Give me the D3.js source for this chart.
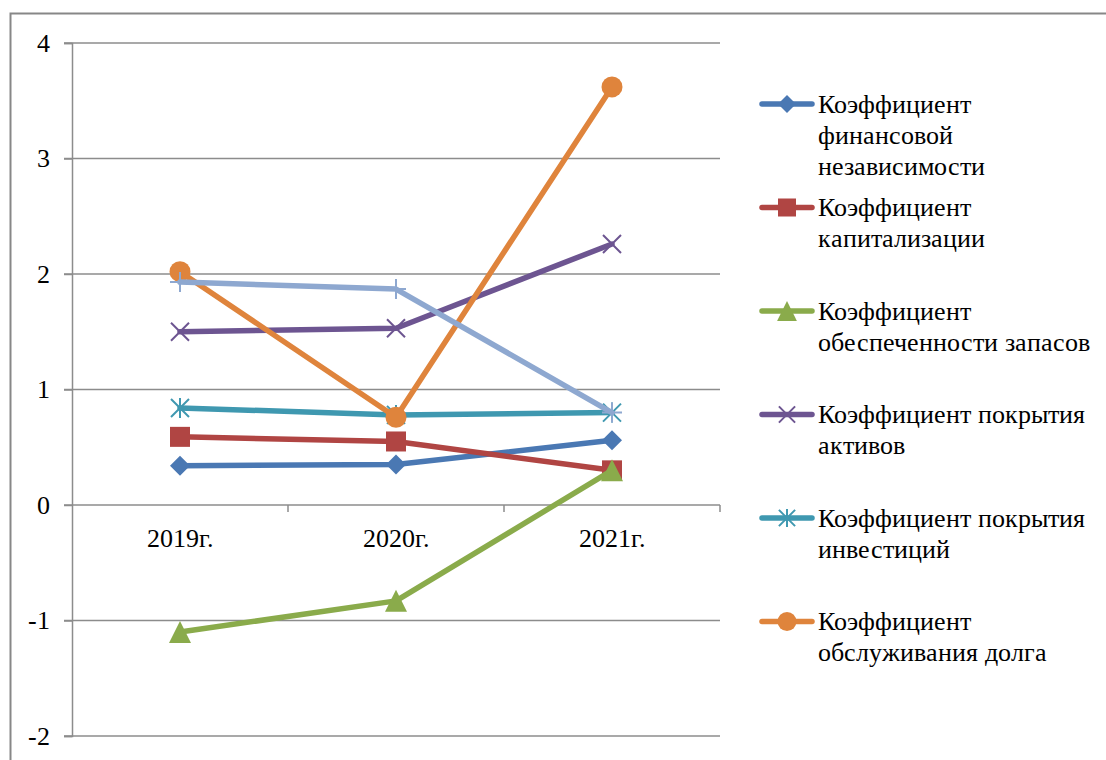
<!DOCTYPE html>
<html>
<head>
<meta charset="utf-8">
<script src="https://cdn.jsdelivr.net/npm/d3@7"></script>
<style>
  @font-face {
    font-family: "ChartSerif";
    src: local("Liberation Serif"), local("LiberationSerif"), local("LiberationSerif-Regular"), local("Times New Roman"), local("Tinos");
  }
  svg text { font-family: "ChartSerif", "Liberation Serif", "Times New Roman", Tinos, serif !important; }
</style>
</head>
<body style="margin:0">
<div class="chart"></div>
<script>
var WIDTH = 1106;
var HEIGHT = 760;

var PLOT_LEFT = 72;
var PLOT_RIGHT = 720;
var PLOT_TOP = 43;
var PLOT_BOTTOM = 736;

var categories = ['2019г.', '2020г.', '2021г.'];
var yTicks = [-2, -1, 0, 1, 2, 3, 4];

var seriesNames = [
    'Коэффициент финансовой независимости',
    'Коэффициент капитализации',
    'Коэффициент обеспеченности запасов',
    'Коэффициент покрытия активов',
    'Коэффициент покрытия инвестиций',
    'Коэффициент обслуживания долга',
    'Коэффициент'
];

var finIndependence = [0.34, 0.35, 0.56];
var capitalization = [0.59, 0.55, 0.30];
var stockCoverage = [-1.10, -0.83, 0.30];
var assetCoverage = [1.50, 1.53, 2.26];
var investCoverage = [0.84, 0.78, 0.80];
var debtService = [2.02, 0.76, 3.62];
var seventhSeries = [1.93, 1.87, 0.80];

// legend text as it wraps in the picture
var legendLines = [
    ['Коэффициент', 'финансовой', 'независимости'],
    ['Коэффициент', 'капитализации'],
    ['Коэффициент', 'обеспеченности запасов'],
    ['Коэффициент покрытия', 'активов'],
    ['Коэффициент покрытия', 'инвестиций'],
    ['Коэффициент', 'обслуживания долга']
];

var series = [
    { name: seriesNames[0], values: finIndependence, color: '#4a78b3', marker: 'diamond' },
    { name: seriesNames[1], values: capitalization, color: '#b04543', marker: 'square' },
    { name: seriesNames[2], values: stockCoverage, color: '#8aab4b', marker: 'triangle' },
    { name: seriesNames[3], values: assetCoverage, color: '#6d5591', marker: 'cross' },
    { name: seriesNames[4], values: investCoverage, color: '#3f98b0', marker: 'star' },
    { name: seriesNames[5], values: debtService, color: '#df843c', marker: 'circle' },
    { name: seriesNames[6], values: seventhSeries, color: '#8ea8d0', marker: 'plus' }
];

var _svg, _xScale, _yScale;

var translate = function (x, y) {
    return "translate(" + x + "," + y + ")";
};

var serif = function (sel) {
    sel.attr('font-family', 'ChartSerif, Liberation Serif, serif')
        .attr('font-size', 26)
        .attr('fill', '#000');
};

var drawMarker = function (g, type, color, x, y, s) {
    var k = s || 1;
    if (type === 'diamond') {
        var r = 10 * k;
        g.append('path').attr('transform', translate(x, y))
            .attr('d', 'M0,' + (-r) + 'L' + r + ',0L0,' + r + 'L' + (-r) + ',0Z')
            .attr('fill', color);
    } else if (type === 'square') {
        var h = 10 * k;
        g.append('rect').attr('x', x - h).attr('y', y - h)
            .attr('width', 2 * h).attr('height', 2 * h)
            .attr('fill', color);
    } else if (type === 'triangle') {
        var t = 11 * k;
        g.append('path').attr('transform', translate(x, y))
            .attr('d', 'M0,' + (-t) + 'L' + t + ',' + t + 'L' + (-t) + ',' + t + 'Z')
            .attr('fill', color);
    } else if (type === 'circle') {
        g.append('circle').attr('cx', x).attr('cy', y).attr('r', 10.5 * k)
            .attr('fill', color);
    } else if (type === 'cross') {
        var c = 9 * k;
        g.append('path').attr('transform', translate(x, y))
            .attr('d', 'M' + (-c) + ',' + (-c) + 'L' + c + ',' + c + 'M' + (-c) + ',' + c + 'L' + c + ',' + (-c))
            .attr('stroke', color).attr('stroke-width', 2).attr('fill', 'none');
    } else if (type === 'star') {
        var a = 9 * k;
        g.append('path').attr('transform', translate(x, y))
            .attr('d', 'M' + (-a) + ',' + (-a) + 'L' + a + ',' + a + 'M' + (-a) + ',' + a + 'L' + a + ',' + (-a) +
                'M0,' + (-a - 1) + 'L0,' + (a + 1))
            .attr('stroke', color).attr('stroke-width', 2).attr('fill', 'none');
    } else if (type === 'plus') {
        var p = 10 * k;
        g.append('path').attr('transform', translate(x, y))
            .attr('d', 'M' + (-p) + ',0L' + p + ',0M0,' + (-p) + 'L0,' + p)
            .attr('stroke', color).attr('stroke-width', 2).attr('fill', 'none');
    }
};

var generateFrame = function () {
    _svg.append('rect')
        .attr('x', 10.5).attr('y', 13.5)
        .attr('width', WIDTH + 20).attr('height', HEIGHT + 20)
        .attr('fill', 'none')
        .attr('stroke', '#878787')
        .attr('stroke-width', 2);
};

var generateAxis = function () {
    var grid = _svg.append('g').attr('class', 'grid');
    yTicks.forEach(function (t) {
        grid.append('line')
            .attr('x1', PLOT_LEFT - 8).attr('x2', PLOT_RIGHT)
            .attr('y1', _yScale(t)).attr('y2', _yScale(t))
            .attr('stroke', '#8c8c8c').attr('stroke-width', 1.5);
    });

    var y = d3.axisLeft(_yScale).tickValues(yTicks).tickSize(8).tickPadding(8)
        .tickFormat(d3.format('d'));
    var yAxis = _svg.append('g')
        .attr('transform', translate(PLOT_LEFT, 0))
        .classed('yAxis', true)
        .call(y);
    yAxis.attr('font-family', null).attr('font-size', null);
    yAxis.select('.domain').attr('stroke', '#8c8c8c').attr('stroke-width', 1.5);
    yAxis.selectAll('.tick line').attr('stroke', '#8c8c8c').attr('stroke-width', 1.5);
    yAxis.selectAll('.tick text')
        .call(serif)
        .attr('x', -22)
        .text(function (d) { return d < 0 ? '-' + Math.abs(d) : d; });

    // category axis crossing at zero, ticks between categories
    var x = d3.axisBottom(_xScale).tickSize(0).tickPadding(24);
    var xAxis = _svg.append('g')
        .attr('transform', translate(0, _yScale(0)))
        .classed('xAxis', true)
        .call(x);
    xAxis.attr('font-family', null).attr('font-size', null);
    xAxis.select('.domain').remove();
    xAxis.selectAll('.tick text').call(serif);

    var bounds = d3.range(1, categories.length + 1).map(function (i) {
        return PLOT_LEFT + i * _xScale.step();
    });
    xAxis.selectAll('.sep').data(bounds).enter().append('line')
        .attr('x1', function (d) { return d; }).attr('x2', function (d) { return d; })
        .attr('y1', 0).attr('y2', 7)
        .attr('stroke', '#8c8c8c').attr('stroke-width', 1.5);
};

var generateLines = function () {
    var line = d3.line()
        .x(function (d, i) { return _xScale(categories[i]) + _xScale.bandwidth() / 2; })
        .y(function (d) { return _yScale(d); });

    series.forEach(function (s) {
        var g = _svg.append('g').attr('class', 'series');
        g.append('path')
            .attr('d', line(s.values))
            .attr('fill', 'none')
            .attr('stroke', s.color)
            .attr('stroke-width', 5.5)
            .attr('stroke-linejoin', 'round')
            .attr('stroke-linecap', 'round');
        s.values.forEach(function (v, i) {
            drawMarker(g, s.marker, s.color,
                _xScale(categories[i]) + _xScale.bandwidth() / 2, _yScale(v));
        });
    });
};

var generateLegend = function () {
    var legend = _svg.append('g').attr('class', 'legend');
    legendLines.forEach(function (lines, i) {
        var s = series[i];
        var y0 = 104 + i * 103.5;
        legend.append('line')
            .attr('x1', 762).attr('x2', 812)
            .attr('y1', y0).attr('y2', y0)
            .attr('stroke', s.color).attr('stroke-width', 5.5)
            .attr('stroke-linecap', 'round');
        drawMarker(legend, s.marker, s.color, 787, y0, 0.9);
        lines.forEach(function (t, j) {
            legend.append('text')
                .attr('x', 818)
                .attr('y', y0 + j * 31)
                .attr('dy', '0.33em')
                .call(serif)
                .text(t);
        });
    });
};

var generateChart = function () {
    _svg = d3.select('.chart').append('svg')
        .attr('width', WIDTH)
        .attr('height', HEIGHT);

    _xScale = d3.scaleBand()
        .domain(categories)
        .range([PLOT_LEFT, PLOT_RIGHT]);

    _yScale = d3.scaleLinear()
        .domain([-2, 4])
        .range([PLOT_BOTTOM, PLOT_TOP]);

    generateFrame();
    generateAxis();
    generateLines();
    generateLegend();
};

generateChart();
</script>
</body>
</html>
